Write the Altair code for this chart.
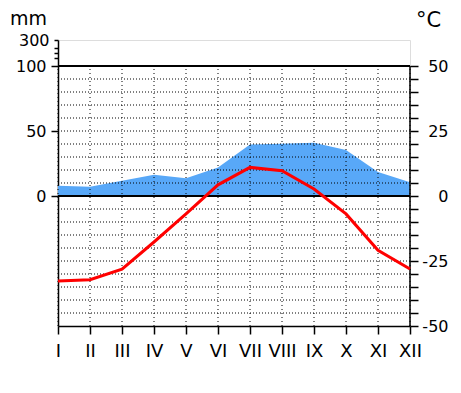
import altair as alt
import pandas as pd

months = ["I", "II", "III", "IV", "V", "VI", "VII", "VIII", "IX", "X", "XI", "XII"]
temperature = [-32.7, -32.2, -28.1, -17.7, -6.9, 4.3, 11.0, 9.7, 2.7, -6.9, -20.9, -28.1]
precipitation = [7.9, 7.1, 11.7, 16.3, 13.7, 21.9, 39.7, 40.2, 41.0, 35.3, 18.5, 10.5]
grid_temps = [t for t in range(-45, 50, 5) if t != 0]
left_ticks = [0, 25, 50, 53, 55, 57, 60]
right_ticks = list(range(-50, 55, 5))

FONT = "DejaVu Sans"
df = pd.DataFrame({"month": months, "temp": temperature, "precip": precipitation})
grid_df = pd.DataFrame({"t": grid_temps})
month_df = pd.DataFrame({"month": months})

yscale = alt.Scale(domain=[-50, 60], nice=False, zero=False)
xscale = alt.Scale(type="point", padding=0, domain=months)

x_axis = alt.Axis(title=None, labelAngle=0, labelFont=FONT, labelFontSize=18,
                  labelColor="black", tickSize=8, tickColor="black", tickWidth=1.5,
                  domainColor="black", domainWidth=1.5, labelPadding=8, grid=False)
X = alt.X("month:N", scale=xscale, axis=x_axis)

left_axis = alt.Axis(
    orient="left", values=left_ticks,
    labelExpr="datum.value == 60 ? '300' : datum.value == 50 ? '100' : datum.value == 25 ? '50' : datum.value == 0 ? '0' : ''",
    tickSize={"condition": {"test": "datum.value > 50", "value": 4}, "value": 7},
    tickColor="black", tickWidth=1.5, domainColor="black", domainWidth=1.5,
    labelFont=FONT, labelFontSize=16, labelColor="black", labelPadding=5,
    grid=False, title="mm", titleAngle=0, titleX=-30, titleY=-16,
    titleAlign="center", titleBaseline="alphabetic", titleFont=FONT,
    titleFontSize=19, titleFontWeight="normal", titleColor="black")

right_axis = alt.Axis(
    orient="right", values=right_ticks,
    labelExpr="datum.value % 25 == 0 ? '' + datum.value : ''",
    tickSize=8, tickColor="black", tickWidth=1.5, domain=False,
    labelFont=FONT, labelFontSize=16, labelColor="black", labelAlign="right",
    labelPadding=30, grid=False, title="°C", titleAngle=0, titleX=18, titleY=-14,
    titleAlign="center", titleBaseline="alphabetic", titleFont=FONT,
    titleFontSize=21, titleFontWeight="normal", titleColor="black")


def yd(v):
    return alt.YDatum(v, type="quantitative", scale=yscale, axis=None)


area = alt.Chart(df).transform_calculate(pu="datum.precip / 2").mark_area(
    color="#58A8F8", opacity=1
).encode(x=X, y=alt.Y("pu:Q", scale=yscale, axis=left_axis), y2=alt.Y2Datum(0))

hgrid = alt.Chart(grid_df).mark_rule(color="black", strokeWidth=1, strokeDash=[1, 2]).encode(
    y=alt.Y("t:Q", scale=yscale, axis=None))

vgrid = alt.Chart(month_df).mark_rule(color="black", strokeWidth=1, strokeDash=[1, 3]).encode(
    x=X, y=yd(-50), y2=alt.Y2Datum(50))

zero_line = alt.Chart(month_df).mark_rule(color="black", strokeWidth=1.5).encode(y=yd(0))
top_line = alt.Chart(month_df).mark_rule(color="black", strokeWidth=1.5).encode(y=yd(50))
right_line = alt.Chart(month_df).transform_filter(
    alt.datum.month == months[-1]
).mark_rule(color="black", strokeWidth=1.5).encode(x=X, y=yd(-50), y2=alt.Y2Datum(50))

temp_line = alt.Chart(df).mark_line(color="#FF0000", strokeWidth=3).encode(
    x=X, y=alt.Y("temp:Q", scale=yscale, axis=right_axis))

chart = alt.layer(area, hgrid, vgrid, zero_line, top_line, right_line, temp_line).resolve_axis(
    y="independent").properties(
    width=352, height=286,
    autosize=alt.AutoSizeParams(type="none"),
    padding={"left": 50, "top": 32, "right": 43, "bottom": 59},
).configure_view(stroke="transparent", strokeWidth=0).configure_axis(grid=False).configure(
    background="white")

chart.save("out.html", embed_options={"renderer": "svg", "actions": False})
